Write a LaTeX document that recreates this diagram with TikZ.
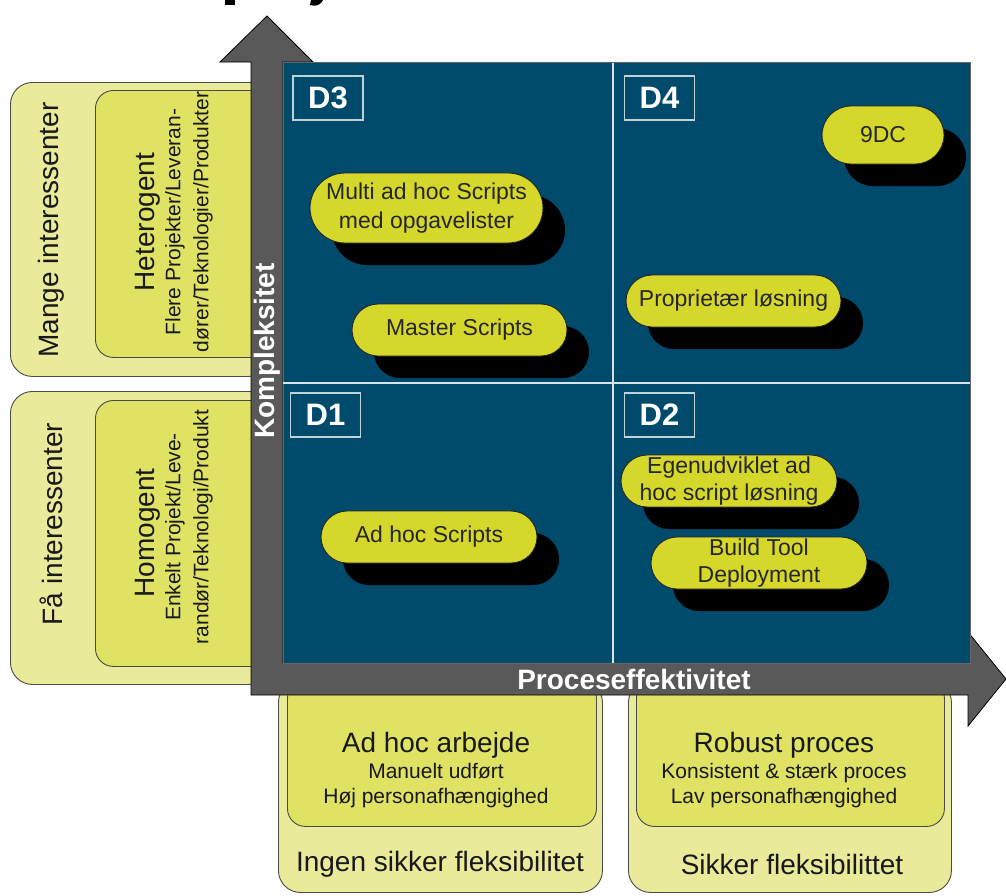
\documentclass[tikz,border=0pt]{standalone}
\usepackage{fontspec}
\setmainfont{Liberation Sans}
\usetikzlibrary{shapes.misc,shadows}
\definecolor{panelblue}{HTML}{004A6C}
\definecolor{axisgray}{HTML}{595959}
\definecolor{outerY}{HTML}{EAEA9B}
\definecolor{innerY}{HTML}{E0E264}
\definecolor{pillY}{HTML}{D5D72A}
\definecolor{edgegray}{HTML}{4A4A4A}
\tikzset{
  outerbox/.style={draw=edgegray, fill=outerY, line width=0.9pt, rounded corners=22pt, anchor=north west, inner sep=0pt},
  innerbox/.style={draw=edgegray, fill=innerY, line width=0.9pt, rounded corners=18pt, anchor=north west, inner sep=0pt},
  pill/.style={rounded rectangle, draw=black!85, line width=0.9pt, fill=pillY, inner sep=0pt, align=center, text=black!85,
    font=\fontsize{23}{28}\selectfont,
    drop shadow={shadow xshift=22pt, shadow yshift=-22pt, fill=black, opacity=1}},
  qlabel/.style={draw=white!75!panelblue, line width=1.5pt, minimum width=70pt, minimum height=44pt, inner sep=0pt,
    text=white, font=\fontsize{31}{31}\selectfont\bfseries},
  bigtxt/.style={font=\fontsize{28}{30}\selectfont, text=black!90},
  smalltxt/.style={font=\fontsize{21}{25}\selectfont, align=center, text=black!90},
  sidetxt/.style={font=\fontsize{21}{28}\selectfont, align=center, text=black!90},
  axistxt/.style={font=\fontsize{28}{30}\selectfont\bfseries, text=white},
  divider/.style={white!85!panelblue, line width=2pt},
  axisshape/.style={fill=axisgray, draw=black, line width=0.8pt},
}
\begin{document}
\begin{tikzpicture}[x=1pt,y=-1pt]
\clip (0,0) rectangle (1006,895);
\fill[white] (0,0) rectangle (1006,895);

% cut-off title fragments at the top
\fill[black] (225,0) rectangle (235,5);
\fill[black] (311,0) -- (323,0) -- (321,3) .. controls (318,6) and (314,6) .. (310,5) -- cycle;

% left side boxes
\node[outerbox, minimum width=260, minimum height=294] (many) at (10,82) {};
\node[innerbox, minimum width=175, minimum height=267] (hetero) at (95,90) {};
\node[outerbox, minimum width=260, minimum height=293] (few) at (10,391) {};
\node[innerbox, minimum width=175, minimum height=266] (homo) at (95,400) {};

\node[bigtxt, rotate=90] (manyT) at (51,230) {Mange interessenter};
\node[bigtxt, rotate=90] (heteroT) at (148,222) {Heterogent};
\node[sidetxt, rotate=90] (heteroS) at (189,222) {Flere Projekter/Leveran-\\dører/Teknologier/Produkter};
\node[bigtxt, rotate=90] (fewT) at (51,524) {Få interessenter};
\node[bigtxt, rotate=90] (homoT) at (148,533) {Homogent};
\node[sidetxt, rotate=90] (homoS) at (189,527) {Enkelt Projekt/Leve-\\randør/Teknologi/Produkt};

% bottom boxes
\node[outerbox, minimum width=324, minimum height=212] (flexL) at (278,680) {};
\node[innerbox, minimum width=309, minimum height=146] (procL) at (287,680) {};
\node[outerbox, minimum width=323, minimum height=212] (flexR) at (628,680) {};
\node[innerbox, minimum width=308, minimum height=146] (procR) at (636,680) {};

\node[bigtxt] (adhocT) at (436,745) {Ad hoc arbejde};
\node[smalltxt] (adhocS) at (436,786) {Manuelt udført\\Høj personafhængighed};
\node[bigtxt] (noflex) at (440,864) {Ingen sikker fleksibilitet};
\node[bigtxt] (robustT) at (784,745) {Robust proces};
\node[smalltxt] (robustS) at (784,786) {Konsistent \& stærk proces\\Lav personafhængighed};
\node[bigtxt] (flex) at (792,864) {Sikker fleksibilittet};

% axes (L-shaped double arrow)
\path[axisshape] (251,695) -- (251,62) -- (220,62) -- (267,16) -- (313,62) -- (283,62) -- (283,663)
  -- (968,663) -- (968,632) -- (1006,679) -- (968,726) -- (968,695) -- cycle;
\node[axistxt, rotate=90] (ky) at (267,351) {Kompleksitet};
\node[axistxt] (kx) at (634,679) {Proceseffektivitet};

% quadrant panel
\node[draw=black!60, fill=panelblue, line width=0.8pt, minimum width=687, minimum height=601, anchor=north west, inner sep=0pt] (panel) at (283,62) {};
\draw[divider] (613,63) -- (613,663);
\draw[divider] (283,383) -- (970,383);

\node[qlabel] (d3) at (328,98) {D3};
\node[qlabel] (d4) at (659.5,98) {D4};
\node[qlabel] (d1) at (325.5,415) {D1};
\node[qlabel] (d2) at (659.5,415) {D2};

\node[pill, minimum width=233, minimum height=70, font=\fontsize{23}{29}\selectfont] (multi) at (426.5,208) {Multi ad hoc Scripts\\med opgavelister};
\node[pill, minimum width=215, minimum height=52] (master) at (459.5,330) {Master Scripts};
\node[pill, minimum width=122, minimum height=58] (ninedc) at (883,135) {9DC};
\node[pill, minimum width=215, minimum height=52] (prop) at (733.5,301) {Proprietær løsning};
\node[pill, minimum width=216, minimum height=52] (adhoc) at (429,537) {Ad hoc Scripts};
\node[pill, minimum width=216, minimum height=52, font=\fontsize{23}{27}\selectfont] (egen) at (729,481) {Egenudviklet ad\\hoc script løsning};
\node[pill, minimum width=216, minimum height=52, font=\fontsize{23}{27}\selectfont] (build) at (759,563) {Build Tool\\Deployment};
\end{tikzpicture}
\end{document}
